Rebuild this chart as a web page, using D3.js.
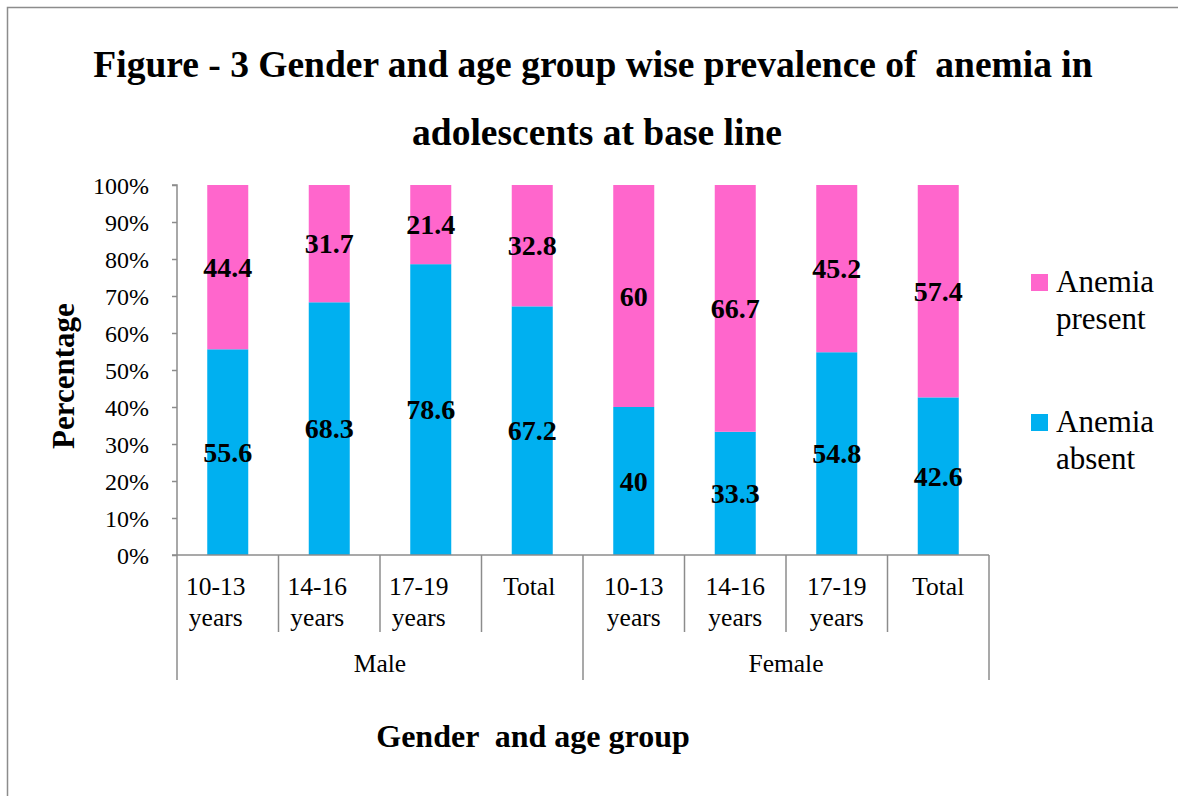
<!DOCTYPE html>
<html>
<head>
<meta charset="utf-8">
<script src="https://cdn.jsdelivr.net/npm/d3@7"></script>
<style>
  body { margin: 0; background: #fff; }
  svg { display: block; font-family: "Liberation Serif", "Times New Roman", serif; }
</style>
</head>
<body>
<svg id="chart" width="1178" height="796"></svg>
<script>
// ---- data ----
const groups = ["Male", "Female"];
const ageLabels = ["10-13 years", "14-16 years", "17-19 years", "Total"];
const categories = [
  {group: "Male", age: "10-13 years"}, {group: "Male", age: "14-16 years"},
  {group: "Male", age: "17-19 years"}, {group: "Male", age: "Total"},
  {group: "Female", age: "10-13 years"}, {group: "Female", age: "14-16 years"},
  {group: "Female", age: "17-19 years"}, {group: "Female", age: "Total"}
];
const anemiaAbsent  = [55.6, 68.3, 78.6, 67.2, 40, 33.3, 54.8, 42.6];
const anemiaPresent = [44.4, 31.7, 21.4, 32.8, 60, 66.7, 45.2, 57.4];
const seriesNames = ["Anemia absent", "Anemia present"];
const seriesColors = ["#00B0F0", "#FF66CC"];
const yTicks = [0, 10, 20, 30, 40, 50, 60, 70, 80, 90, 100];

// ---- layout ----
const svg = d3.select("#chart");
const plotLeft = 177, plotRight = 989, plotTop = 185, plotBottom = 555;

// frame
svg.append("path").attr("d", "M7.5,800 L7.5,7.5 L1180,7.5")
  .attr("fill", "none").attr("stroke", "#8c8c8c").attr("stroke-width", 1.5);

// title
const title = svg.append("text").attr("text-anchor", "middle")
  .attr("font-weight", "bold").attr("font-size", 37.5).attr("fill", "#000")
  .style("white-space", "pre");
title.append("tspan").attr("x", 593).attr("y", 77).text("Figure - 3 Gender and age group wise prevalence of  anemia in");
title.append("tspan").attr("x", 597).attr("y", 145).text("adolescents at base line");

const x = d3.scaleBand().domain(d3.range(categories.length)).range([plotLeft, plotRight]).paddingInner(0).paddingOuter(0);
const y = d3.scaleLinear().domain([0, 100]).range([plotBottom, plotTop]);
const barW = 41;

// y axis
const yAxis = d3.axisLeft(y).tickValues(yTicks).tickSize(5).tickFormat(d => d + "%");
const yg = svg.append("g").attr("transform", `translate(${plotLeft},0)`).call(yAxis);
yg.select(".domain").attr("stroke", "#8c8c8c").attr("stroke-width", 1.5).attr("d", `M-5,${plotTop}H0V${plotBottom}`);
yg.selectAll(".tick line").attr("stroke", "#8c8c8c").attr("stroke-width", 1.5);
yg.selectAll(".tick text").attr("font-family", "Liberation Serif, serif").attr("font-size", 24)
  .attr("fill", "#000").attr("x", -28).attr("dy", "0.35em");

// bars
const stacks = categories.map((c, i) => [
  {s: 0, y0: 0, y1: anemiaAbsent[i], v: anemiaAbsent[i], i},
  {s: 1, y0: anemiaAbsent[i], y1: anemiaAbsent[i] + anemiaPresent[i], v: anemiaPresent[i], i}
]).flat();

svg.append("g").selectAll("rect").data(stacks).join("rect")
  .attr("x", d => x(d.i) + x.bandwidth() / 2 - barW / 2)
  .attr("width", barW)
  .attr("y", d => y(Math.min(d.y1, 100)))
  .attr("height", d => y(d.y0) - y(Math.min(d.y1, 100)))
  .attr("fill", d => seriesColors[d.s]);

svg.append("g").selectAll("text").data(stacks).join("text")
  .attr("x", d => x(d.i) + x.bandwidth() / 2)
  .attr("y", d => y((d.y0 + Math.min(d.y1, 100)) / 2))
  .attr("dy", "0.35em")
  .attr("text-anchor", "middle").attr("font-weight", "bold").attr("font-size", 28)
  .attr("fill", "#000")
  .text(d => d.v);

// x axis: horizontal line & separators
const axisG = svg.append("g").attr("stroke", "#8c8c8c").attr("stroke-width", 1.5);
axisG.append("line").attr("x1", plotLeft - 5).attr("x2", plotRight).attr("y1", plotBottom).attr("y2", plotBottom);
d3.range(categories.length + 1).forEach(i => {
  const xx = i < categories.length ? x(i) : plotRight;
  const isGroupEdge = (i % 4 === 0);
  axisG.append("line").attr("x1", xx).attr("x2", xx).attr("y1", plotBottom)
    .attr("y2", isGroupEdge ? 680 : 632);
});

// category labels
const catText = svg.append("g").selectAll("text").data(categories).join("text")
  .attr("text-anchor", "middle").attr("font-size", 25.5).attr("fill", "#000");
catText.each(function(d, i) {
  const words = d.age.split(" ");
  const isTotal = d.age === "Total";
  const cx = x(i) + x.bandwidth() / 2 + (d.group === "Male" ? (isTotal ? -3 : -12) : 0);
  words.forEach((w, k) => {
    d3.select(this).append("tspan").attr("x", cx).attr("y", 595 + k * 31).text(w);
  });
});

// group labels
svg.append("g").selectAll("text").data(groups).join("text")
  .attr("x", (g, gi) => (x(gi * 4) + (gi === groups.length - 1 ? plotRight : x(gi * 4 + 4))) / 2)
  .attr("y", 672)
  .attr("text-anchor", "middle").attr("font-size", 25.5).attr("fill", "#000")
  .text(g => g);

// axis titles
svg.append("text").attr("x", 533).attr("y", 747).attr("text-anchor", "middle")
  .attr("font-weight", "bold").attr("font-size", 32).attr("fill", "#000")
  .style("white-space", "pre")
  .text("Gender  and age group");
svg.append("text").attr("transform", "translate(74,376) rotate(-90)").attr("text-anchor", "middle")
  .attr("font-weight", "bold").attr("font-size", 31).attr("fill", "#000")
  .text("Percentage");

// legend (present first, then absent)
const legendItems = [
  {name: seriesNames[1], color: seriesColors[1], y: 274},
  {name: seriesNames[0], color: seriesColors[0], y: 414}
];
const lg = svg.append("g").selectAll("g").data(legendItems).join("g")
  .attr("transform", d => `translate(1031,${d.y})`);
lg.append("rect").attr("width", 17).attr("height", 17).attr("fill", d => d.color);
lg.append("text").attr("font-size", 31).attr("fill", "#000")
  .each(function(d) {
    const parts = d.name.split(" ");
    parts.forEach((p, k) => d3.select(this).append("tspan").attr("x", 25).attr("y", 18 + k * 36.5).text(p));
  });
</script>
</body>
</html>
